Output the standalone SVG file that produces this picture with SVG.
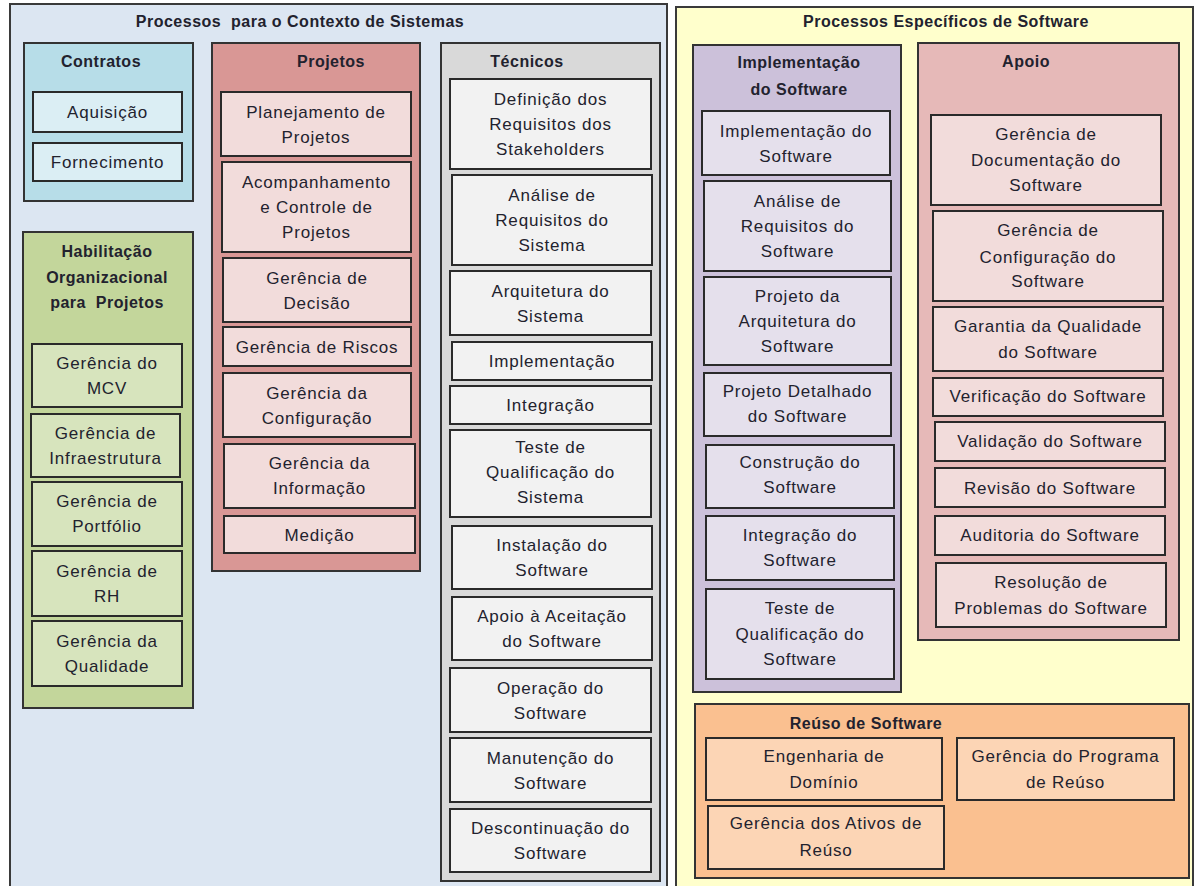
<svg xmlns="http://www.w3.org/2000/svg" width="1196" height="886" viewBox="0 0 1196 886">
  <style>
    text { font-family: "Liberation Sans", Arial, sans-serif; fill: #22222e; text-anchor: middle; }
    .t { font-size: 17px; letter-spacing: 0.8px; }
    .h { font-size: 16px; font-weight: bold; letter-spacing: 0.5px; }
    .outer { stroke: #3a3a3a; stroke-width: 2; }
    .grp { stroke: #333; stroke-width: 2; }
    .box { stroke: #2a2a2a; stroke-width: 2; }
    .ctr { fill: #b7dde8; } .ctr-i { fill: #dbeef4; }
    .prj { fill: #d99795; } .prj-i { fill: #f2dcdb; }
    .hab { fill: #c3d69b; } .hab-i { fill: #d7e4bd; }
    .tec { fill: #d9d9d9; } .tec-i { fill: #f2f2f2; }
    .imp { fill: #ccc1da; } .imp-i { fill: #e5e0ec; }
    .apo { fill: #e6b9b8; } .apo-i { fill: #f2dcdb; }
    .reu { fill: #fac090; } .reu-i { fill: #fcd5b5; }
  </style>
  <rect width="1196" height="886" fill="#ffffff"/>

  <!-- Outer areas -->
  <g id="contexto-sistemas">
    <rect class="outer" x="10" y="4" width="657" height="892" fill="#dce6f2"/>
    <text class="h" x="300" y="27">Processos&#160; para o Contexto de Sistemas</text>
  </g>
  <g id="especificos-software">
    <rect class="outer" x="676" y="7" width="517" height="889" fill="#ffffcc"/>
    <text class="h" x="946" y="27">Processos Específicos de Software</text>
  </g>

  <!-- Contratos -->
  <g id="contratos">
    <rect class="grp ctr" x="24" y="43" width="169" height="158"/>
    <text class="h" x="101" y="67">Contratos</text>
  </g>
  <g id="aquisicao"><rect class="box ctr-i" x="33" y="92" width="149" height="40"/><text class="t" x="107.5" y="118">Aquisição</text></g>
  <g id="fornecimento"><rect class="box ctr-i" x="33" y="143" width="149" height="38"/><text class="t" x="107.5" y="168">Fornecimento</text></g>

  <!-- Habilitação Organizacional -->
  <g id="habilitacao">
    <rect class="grp hab" x="23" y="232" width="170" height="476"/>
    <text class="h" x="107" y="257">Habilitação</text>
    <text class="h" x="107" y="283">Organizacional</text>
    <text class="h" x="107" y="308">para&#160; Projetos</text>
  </g>
  <g id="ger-mcv"><rect class="box hab-i" x="32" y="344" width="150" height="63"/><text class="t" x="107" y="369">Gerência do</text><text class="t" x="107" y="394">MCV</text></g>
  <g id="ger-infra"><rect class="box hab-i" x="31" y="414" width="149" height="63"/><text class="t" x="105.5" y="439">Gerência de</text><text class="t" x="105.5" y="464">Infraestrutura</text></g>
  <g id="ger-portfolio"><rect class="box hab-i" x="32" y="482" width="150" height="64"/><text class="t" x="107" y="507">Gerência de</text><text class="t" x="107" y="532">Portfólio</text></g>
  <g id="ger-rh"><rect class="box hab-i" x="32" y="551" width="150" height="65"/><text class="t" x="107" y="577">Gerência de</text><text class="t" x="107" y="602">RH</text></g>
  <g id="ger-qualidade"><rect class="box hab-i" x="32" y="621" width="150" height="65"/><text class="t" x="107" y="647">Gerência da</text><text class="t" x="107" y="672">Qualidade</text></g>

  <!-- Projetos -->
  <g id="projetos">
    <rect class="grp prj" x="212" y="43" width="208" height="528"/>
    <text class="h" x="331" y="67">Projetos</text>
  </g>
  <g id="planejamento"><rect class="box prj-i" x="221" y="92" width="190" height="64"/><text class="t" x="316" y="118">Planejamento de</text><text class="t" x="316" y="143">Projetos</text></g>
  <g id="acompanhamento"><rect class="box prj-i" x="222" y="162" width="189" height="90"/><text class="t" x="316.5" y="188">Acompanhamento</text><text class="t" x="316.5" y="213">e Controle de</text><text class="t" x="316.5" y="238">Projetos</text></g>
  <g id="ger-decisao"><rect class="box prj-i" x="223" y="258" width="188" height="64"/><text class="t" x="317" y="284">Gerência de</text><text class="t" x="317" y="309">Decisão</text></g>
  <g id="ger-riscos"><rect class="box prj-i" x="223" y="327" width="188" height="39"/><text class="t" x="317" y="353">Gerência de Riscos</text></g>
  <g id="ger-configuracao"><rect class="box prj-i" x="223" y="373" width="188" height="64"/><text class="t" x="317" y="399">Gerência da</text><text class="t" x="317" y="424">Configuração</text></g>
  <g id="ger-informacao"><rect class="box prj-i" x="224" y="444" width="191" height="64"/><text class="t" x="319.5" y="469">Gerência da</text><text class="t" x="319.5" y="494">Informação</text></g>
  <g id="medicao"><rect class="box prj-i" x="224" y="516" width="191" height="37"/><text class="t" x="319.5" y="541">Medição</text></g>

  <!-- Técnicos -->
  <g id="tecnicos">
    <rect class="grp tec" x="441" y="43" width="219" height="838"/>
    <text class="h" x="527" y="67">Técnicos</text>
  </g>
  <g id="def-requisitos"><rect class="box tec-i" x="450" y="79" width="201" height="90"/><text class="t" x="550.5" y="105">Definição dos</text><text class="t" x="550.5" y="130">Requisitos dos</text><text class="t" x="550.5" y="155">Stakeholders</text></g>
  <g id="analise-req-sistema"><rect class="box tec-i" x="452" y="175" width="200" height="90"/><text class="t" x="552" y="201">Análise de</text><text class="t" x="552" y="226">Requisitos do</text><text class="t" x="552" y="251">Sistema</text></g>
  <g id="arquitetura-sistema"><rect class="box tec-i" x="450" y="271" width="201" height="64"/><text class="t" x="550.5" y="297">Arquitetura do</text><text class="t" x="550.5" y="322">Sistema</text></g>
  <g id="implementacao"><rect class="box tec-i" x="452" y="342" width="200" height="38"/><text class="t" x="552" y="367">Implementação</text></g>
  <g id="integracao"><rect class="box tec-i" x="450" y="386" width="201" height="38"/><text class="t" x="550.5" y="411">Integração</text></g>
  <g id="teste-qual-sistema"><rect class="box tec-i" x="450" y="430" width="201" height="87"/><text class="t" x="550.5" y="453">Teste de</text><text class="t" x="550.5" y="478">Qualificação do</text><text class="t" x="550.5" y="503">Sistema</text></g>
  <g id="instalacao"><rect class="box tec-i" x="452" y="526" width="200" height="63"/><text class="t" x="552" y="551">Instalação do</text><text class="t" x="552" y="576">Software</text></g>
  <g id="apoio-aceitacao"><rect class="box tec-i" x="452" y="597" width="200" height="63"/><text class="t" x="552" y="622">Apoio à Aceitação</text><text class="t" x="552" y="647">do Software</text></g>
  <g id="operacao"><rect class="box tec-i" x="450" y="668" width="201" height="64"/><text class="t" x="550.5" y="694">Operação do</text><text class="t" x="550.5" y="719">Software</text></g>
  <g id="manutencao"><rect class="box tec-i" x="450" y="738" width="201" height="64"/><text class="t" x="550.5" y="764">Manutenção do</text><text class="t" x="550.5" y="789">Software</text></g>
  <g id="descontinuacao"><rect class="box tec-i" x="450" y="809" width="201" height="63"/><text class="t" x="550.5" y="834">Descontinuação do</text><text class="t" x="550.5" y="859">Software</text></g>

  <!-- Implementação do Software -->
  <g id="implementacao-software">
    <rect class="grp imp" x="693" y="45" width="208" height="647"/>
    <text class="h" x="799" y="68">Implementação</text>
    <text class="h" x="799" y="95">do Software</text>
  </g>
  <g id="impl-sw"><rect class="box imp-i" x="702" y="111" width="188" height="64"/><text class="t" x="796" y="137">Implementação do</text><text class="t" x="796" y="162">Software</text></g>
  <g id="analise-req-sw"><rect class="box imp-i" x="704" y="181" width="187" height="90"/><text class="t" x="797.5" y="207">Análise de</text><text class="t" x="797.5" y="232">Requisitos do</text><text class="t" x="797.5" y="257">Software</text></g>
  <g id="projeto-arquitetura"><rect class="box imp-i" x="704" y="277" width="187" height="88"/><text class="t" x="797.5" y="302">Projeto da</text><text class="t" x="797.5" y="327">Arquitetura do</text><text class="t" x="797.5" y="352">Software</text></g>
  <g id="projeto-detalhado"><rect class="box imp-i" x="704" y="373" width="187" height="63"/><text class="t" x="797.5" y="397">Projeto Detalhado</text><text class="t" x="797.5" y="422">do Software</text></g>
  <g id="construcao"><rect class="box imp-i" x="706" y="445" width="188" height="63"/><text class="t" x="800" y="468">Construção do</text><text class="t" x="800" y="493">Software</text></g>
  <g id="integracao-sw"><rect class="box imp-i" x="706" y="516" width="188" height="64"/><text class="t" x="800" y="541">Integração do</text><text class="t" x="800" y="566">Software</text></g>
  <g id="teste-qual-sw"><rect class="box imp-i" x="706" y="589" width="188" height="90"/><text class="t" x="800" y="614">Teste de</text><text class="t" x="800" y="640">Qualificação do</text><text class="t" x="800" y="665">Software</text></g>

  <!-- Apoio -->
  <g id="apoio">
    <rect class="grp apo" x="918" y="43" width="261" height="597"/>
    <text class="h" x="1026" y="67">Apoio</text>
  </g>
  <g id="ger-documentacao"><rect class="box apo-i" x="931" y="115" width="230" height="90"/><text class="t" x="1046" y="140">Gerência de</text><text class="t" x="1046" y="166">Documentação do</text><text class="t" x="1046" y="191">Software</text></g>
  <g id="ger-config-sw"><rect class="box apo-i" x="933" y="211" width="230" height="90"/><text class="t" x="1048" y="236">Gerência de</text><text class="t" x="1048" y="263">Configuração do</text><text class="t" x="1048" y="287">Software</text></g>
  <g id="garantia-qualidade"><rect class="box apo-i" x="933" y="307" width="230" height="64"/><text class="t" x="1048" y="332">Garantia da Qualidade</text><text class="t" x="1048" y="358">do Software</text></g>
  <g id="verificacao"><rect class="box apo-i" x="933" y="378" width="230" height="38"/><text class="t" x="1048" y="402">Verificação do Software</text></g>
  <g id="validacao"><rect class="box apo-i" x="935" y="422" width="230" height="39"/><text class="t" x="1050" y="447">Validação do Software</text></g>
  <g id="revisao"><rect class="box apo-i" x="935" y="468" width="230" height="39"/><text class="t" x="1050" y="494">Revisão do Software</text></g>
  <g id="auditoria"><rect class="box apo-i" x="935" y="516" width="230" height="39"/><text class="t" x="1050" y="541">Auditoria do Software</text></g>
  <g id="resolucao-problemas"><rect class="box apo-i" x="936" y="563" width="230" height="64"/><text class="t" x="1051" y="588">Resolução de</text><text class="t" x="1051" y="614">Problemas do Software</text></g>

  <!-- Reúso de Software -->
  <g id="reuso-software">
    <rect class="grp reu" x="695" y="704" width="494" height="174"/>
    <text class="h" x="866" y="729">Reúso de Software</text>
  </g>
  <g id="engenharia-dominio"><rect class="box reu-i" x="706" y="738" width="236" height="62"/><text class="t" x="824" y="762">Engenharia de</text><text class="t" x="824" y="788">Domínio</text></g>
  <g id="ger-programa-reuso"><rect class="box reu-i" x="957" y="738" width="217" height="62"/><text class="t" x="1065.5" y="762">Gerência do Programa</text><text class="t" x="1065.5" y="788">de Reúso</text></g>
  <g id="ger-ativos-reuso"><rect class="box reu-i" x="708" y="806" width="236" height="63"/><text class="t" x="826" y="829">Gerência dos Ativos de</text><text class="t" x="826" y="856">Reúso</text></g>

  <g id="connectors"/>
</svg>
